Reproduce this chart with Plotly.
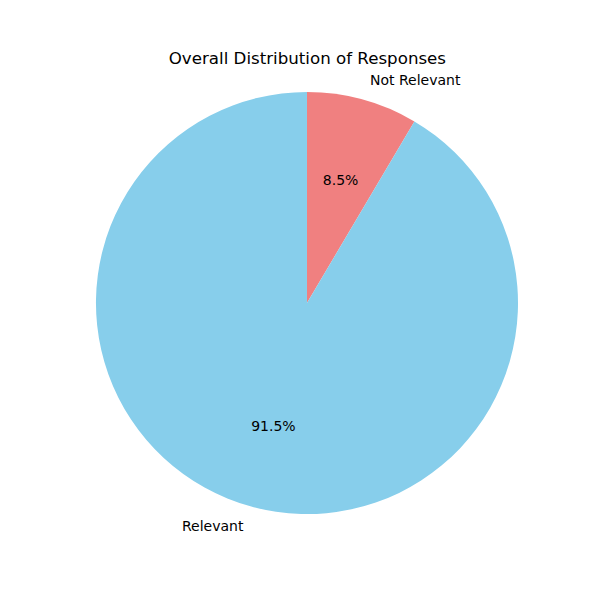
import plotly.graph_objects as go

# Response categories and their shares (%)
labels = ["Not Relevant", "Relevant"]
values = [8.5, 91.5]
colors = ["#F08080", "#87CEEB"]

# pie centre in paper units (the page adds an 8px body margin)
cx, cy = 0.4983, 0.5083


def dom(half):
    return dict(x=[cx - half, cx + half], y=[cy - half, cy + half])


common = dict(labels=labels, values=values, sort=False, direction="clockwise",
              rotation=0, showlegend=False)

fig = go.Figure()

# coloured slices
fig.add_trace(go.Pie(
    **common,
    marker=dict(colors=colors, line=dict(width=0)),
    textinfo="none",
    domain=dom(0.3517),
))

# transparent ring so the percentages land at ~0.6 of the radius
fig.add_trace(go.Pie(
    **common,
    marker=dict(colors=["rgba(0,0,0,0)"] * 2, line=dict(width=0)),
    hole=0.58,
    texttemplate="%{percent:.1%}",
    textposition="inside",
    insidetextorientation="horizontal",
    insidetextfont=dict(color="black", size=14),
    domain=dom(0.2683),
    hoverinfo="skip",
))

# transparent copy for the outside category labels
fig.add_trace(go.Pie(
    **common,
    marker=dict(colors=["rgba(0,0,0,0)"] * 2, line=dict(width=0)),
    textinfo="label",
    textposition="outside",
    outsidetextfont=dict(color="black", size=14),
    domain=dom(0.373),
    hoverinfo="skip",
))

fig.update_layout(
    width=600,
    height=600,
    margin=dict(l=0, r=0, t=0, b=0),
    paper_bgcolor="white",
    font=dict(family="DejaVu Sans", color="black"),
    title=dict(
        text="Overall Distribution of Responses",
        x=0.499,
        xanchor="center",
        y=0.9167,
        yanchor="middle",
        font=dict(size=16.67, color="black"),
    ),
)

fig.write_html("out.html")
